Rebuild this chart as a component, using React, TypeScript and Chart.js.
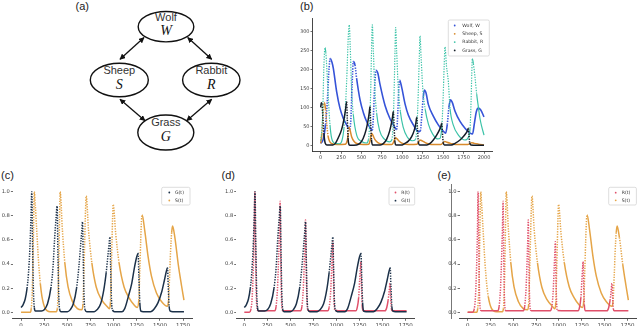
import React, { useEffect, useRef } from "react";
import { Chart, registerables } from "chart.js";
Chart.register(...registerables);

// ---------- panel (b): populations over time ----------
const wolfT = [0,30,60,85,100,118,140,155,196,236,277,318,355,370,385,400,420,441,482,523,564,605,632,645,660,678,700,727,788,849,900,930,945,955,966,990,1032,1073,1134,1196,1220,1240,1255,1270,1290,1318,1379,1440,1502,1530,1550,1570,1590,1610,1645,1706,1767,1829,1860,1880,1905,1930,1960,2000];
const wolfV = [5,15,55,130,195,229,218,203,141,98,71,54,42,70,160,221,212,175,120,86,62,46,40,75,150,198,190,160,105,70,50,42,90,145,172,155,110,80,54,36,38,85,125,146,138,108,77,54,37,32,55,100,120,114,90,63,45,32,30,55,88,98,93,75];

const sheepT = [0,15,30,45,60,75,90,110,140,200,300,325,338,347,360,380,410,450,520,590,605,615,624,640,665,700,750,870,890,905,916,935,965,1010,1080,1180,1200,1215,1240,1280,1330,1470,1500,1520,1545,1590,1650,1800,1830,1849,1880,1930,2000];
const sheepV = [5,30,85,113,95,55,25,10,4,2,3,12,30,48,40,22,10,4,2,3,12,24,32,26,15,7,3,2,7,15,20,17,10,4,2,3,9,14,12,7,3,2,7,10,8,5,2,2,5,7,5,3,1];

const rabbitT = [0,12,24,40,53,63,73,94,114,135,176,230,257,285,305,318,339,350,362,378,400,441,502,560,585,600,612,622,632,645,660,685,720,780,840,870,888,900,910,918,930,950,975,1010,1060,1120,1160,1180,1195,1207,1216,1230,1250,1280,1320,1370,1430,1460,1485,1500,1512,1522,1540,1563,1584,1624,1686,1767,1810,1829,1842,1850,1857,1870,1889,1910,1930,1951,1971,2000];
const rabbitV = [12,35,80,212,258,245,212,124,54,18,5,4,10,45,110,168,291,318,260,150,80,27,10,6,15,60,140,240,318,250,160,85,40,16,9,14,60,150,250,311,250,150,90,48,22,12,15,55,140,230,289,230,150,95,55,30,17,18,55,130,210,260,210,168,97,53,27,14,22,45,120,190,229,215,181,135,102,70,50,27];

const grassT = [0,8,16,28,40,55,75,150,180,216,257,286,305,318,326,335,345,360,440,480,520,555,580,594,604,612,622,635,730,770,810,845,868,880,890,898,908,920,1000,1032,1073,1114,1146,1165,1176,1185,1195,1210,1300,1339,1379,1420,1453,1472,1482,1490,1500,1515,1600,1645,1706,1747,1780,1800,1808,1815,1825,1840,2000];
const grassV = [100,112,108,70,30,6,1,1,5,20,42,70,95,115,70,20,3,0,1,5,18,40,65,85,102,60,15,1,1,5,17,38,60,75,89,55,12,1,1,5,11,23,40,58,74,45,10,1,1,5,14,27,40,50,58,35,8,1,1,5,14,23,32,40,45,28,6,1,0];

const bXTicks = [0,250,500,750,1000,1250,1500,1750,2000];
const bYTicks = [0,50,100,150,200,250,300];

// ---------- panels (c)-(e): normalised series ----------
const gT = [0,20,45,65,80,95,107,116,124,133,143,155,220,250,286,322,345,362,378,390,398,407,418,430,500,530,565,600,625,645,657,664,672,681,692,710,790,820,860,895,920,940,953,960,968,977,988,1010,1090,1120,1159,1196,1225,1250,1265,1273,1283,1295,1320,1400,1440,1480,1520,1550,1570,1582,1590,1600,1612,1640,1760];
const gV = [0.04,0.06,0.11,0.2,0.32,0.52,0.78,1.0,0.6,0.2,0.04,0.01,0.01,0.02,0.07,0.2,0.37,0.6,0.78,0.88,0.5,0.15,0.02,0.005,0.005,0.02,0.07,0.2,0.38,0.57,0.68,0.75,0.45,0.12,0.02,0.005,0.005,0.02,0.07,0.19,0.33,0.48,0.58,0.625,0.38,0.1,0.02,0.005,0.005,0.03,0.13,0.24,0.37,0.46,0.49,0.3,0.08,0.01,0.005,0.005,0.03,0.08,0.17,0.27,0.34,0.37,0.22,0.05,0.01,0.005,0.005];

const sT = [0,100,110,120,128,135,143,153,168,190,208,226,262,313,380,392,402,410,416,422,447,473,508,555,609,655,668,678,688,697,704,729,765,812,873,927,955,965,975,983,990,995,1023,1059,1113,1167,1222,1255,1272,1283,1293,1301,1308,1336,1373,1409,1463,1517,1580,1592,1605,1615,1627,1637,1662,1698,1734,1760];
const sV = [0,0,0.03,0.15,0.4,0.7,1.0,0.9,0.7,0.41,0.24,0.13,0.03,0.005,0.005,0.03,0.2,0.5,0.78,1.0,0.68,0.41,0.21,0.09,0.03,0.02,0.06,0.3,0.6,0.85,0.965,0.68,0.41,0.21,0.1,0.05,0.03,0.08,0.35,0.6,0.8,0.895,0.65,0.41,0.21,0.12,0.06,0.04,0.1,0.35,0.6,0.76,0.81,0.68,0.46,0.3,0.16,0.09,0.05,0.09,0.3,0.5,0.66,0.715,0.62,0.4,0.22,0.1];

const rT = [0,55,70,85,97,107,115,121,130,140,150,330,345,360,372,382,388,394,402,412,420,610,625,640,652,659,664,670,678,688,698,905,920,935,947,955,960,966,974,984,1210,1225,1240,1252,1260,1264,1270,1278,1288,1525,1545,1560,1572,1580,1587,1595,1605,1760];
const rV = [0,0,0.02,0.12,0.35,0.65,1.0,0.6,0.15,0.02,0.012,0.012,0.05,0.2,0.45,0.72,0.92,0.55,0.15,0.02,0.012,0.012,0.05,0.2,0.45,0.62,0.765,0.45,0.12,0.02,0.012,0.012,0.04,0.15,0.35,0.5,0.585,0.35,0.08,0.015,0.012,0.04,0.12,0.28,0.38,0.42,0.25,0.06,0.013,0.012,0.04,0.1,0.18,0.24,0.14,0.03,0.012,0.012];

const nXTicks = [0,250,500,750,1000,1250,1500,1750];
const nYTicks = [0,0.2,0.4,0.6,0.8,1.0];

// ---------- colours ----------
const C_WOLF = "#3553d8";
const C_SHEEP = "#d88a2c";
const C_RABBIT = "#3cc3a8";
const C_GRASS = "#141d28";
const C_G = "#1c3149";
const C_S = "#e5a548";
const C_R = "#e0506a";

const TICK_FONT = "DejaVu Sans";

function pts(t: number[], v: number[]) {
  return t.map((x, i) => ({ x, y: v[i] }));
}

// near-vertical stretches look dotted (sparse samples), the rest solid
const steepDash = (ctx: any) => {
  const dx = Math.abs(ctx.p1.x - ctx.p0.x);
  const dy = Math.abs(ctx.p1.y - ctx.p0.y);
  return dy > 8 * dx ? [1.3, 1.3] : undefined;
};

function ds(label: string, t: number[], v: number[], color: string, order: number, width = 1.5) {
  return {
    label,
    data: pts(t, v),
    borderColor: color,
    backgroundColor: color,
    borderWidth: width,
    pointRadius: 0,
    fill: false,
    cubicInterpolationMode: "monotone",
    order,
    segment: { borderDash: steepDash },
  };
}

const boxLegend = {
  id: "boxLegend",
  afterDatasetsDraw(chart: any, _args: any, opts: any) {
    if (!opts || !opts.w) return;
    const { ctx, chartArea } = chart;
    const x0 = chartArea.right - opts.right - opts.w;
    const y0 = chartArea.top + opts.top;
    ctx.save();
    ctx.fillStyle = "rgba(255,255,255,0.85)";
    ctx.strokeStyle = "#d4d4d4";
    ctx.lineWidth = 0.8;
    ctx.beginPath();
    if (ctx.roundRect) ctx.roundRect(x0, y0, opts.w, opts.h, 1.5);
    else ctx.rect(x0, y0, opts.w, opts.h);
    ctx.fill();
    ctx.stroke();
    chart.data.datasets.forEach((d: any, i: number) => {
      const y = y0 + opts.first + i * opts.row;
      ctx.fillStyle = d.borderColor;
      ctx.beginPath();
      ctx.arc(x0 + opts.mx, y, 0.9, 0, Math.PI * 2);
      ctx.fill();
      ctx.fillStyle = "#333";
      ctx.font = `${opts.fs}px "${TICK_FONT}"`;
      ctx.textBaseline = "middle";
      ctx.textAlign = "left";
      ctx.fillText(d.label, x0 + opts.tx, y);
    });
    ctx.restore();
  },
};

type Spec = {
  left: number; right: number; top: number; bottom: number;
  wy: number; hx: number;
  xmin: number; xmax: number; ymin: number; ymax: number;
  xticks: number[]; yticks: number[];
  yfmt: (v: number) => string;
  xfs: number; yfs: number;
  ySpine: boolean;
  datasets: any[];
  legend: any;
};

function Panel({ spec }: { spec: Spec }) {
  const ref = useRef<HTMLCanvasElement | null>(null);
  const X0 = Math.floor(spec.left - spec.wy - 2);
  const Y0 = Math.floor(spec.top - 3);
  const W = Math.ceil(spec.right + 3) - X0;
  const H = Math.ceil(spec.bottom + spec.hx + 1) - Y0;
  useEffect(() => {
    const pad = {
      left: spec.left - spec.wy - X0,
      top: spec.top - Y0,
      right: X0 + W - spec.right,
      bottom: Y0 + H - spec.bottom - spec.hx,
    };
    const chart = new Chart(ref.current as HTMLCanvasElement, {
      type: "line",
      data: { datasets: spec.datasets },
      plugins: [boxLegend],
      options: {
        animation: false,
        responsive: false,
        events: [],
        layout: { padding: pad },
        plugins: {
          legend: { display: false },
          tooltip: { enabled: false },
          boxLegend: spec.legend,
        } as any,
        scales: {
          x: {
            type: "linear",
            min: spec.xmin,
            max: spec.xmax,
            afterBuildTicks: (s: any) => {
              s.ticks = spec.xticks.map((v) => ({ value: v }));
            },
            afterFit: (s: any) => {
              s.height = spec.hx;
              s.paddingLeft = 0;
              s.paddingRight = 0;
            },
            ticks: {
              autoSkip: false,
              maxRotation: 0,
              padding: 1,
              color: "#444",
              font: { family: TICK_FONT, size: spec.xfs },
              callback: (v: any) => String(v),
            },
            grid: {
              drawOnChartArea: false,
              drawTicks: true,
              tickLength: 2.5,
              tickColor: "#333",
              tickWidth: 0.7,
            },
            border: { display: true, color: "#333", width: 0.9 },
          },
          y: {
            type: "linear",
            min: spec.ymin,
            max: spec.ymax,
            afterBuildTicks: (s: any) => {
              s.ticks = spec.yticks.map((v) => ({ value: v }));
            },
            afterFit: (s: any) => {
              s.width = spec.wy;
              s.paddingTop = 0;
              s.paddingBottom = 0;
            },
            ticks: {
              autoSkip: false,
              padding: 1,
              color: "#444",
              font: { family: TICK_FONT, size: spec.yfs },
              callback: (v: any) => spec.yfmt(Number(v)),
            },
            grid: {
              drawOnChartArea: false,
              drawTicks: true,
              tickLength: 2,
              tickColor: "#333",
              tickWidth: 0.7,
            },
            border: { display: spec.ySpine, color: "#333", width: 0.9 },
          },
        },
      } as any,
    });
    return () => chart.destroy();
  }, []);
  return (
    <canvas
      ref={ref}
      width={W}
      height={H}
      style={{ position: "absolute", left: X0, top: Y0, width: W, height: H }}
    />
  );
}

const specB: Spec = {
  left: 312.5, right: 492.2, top: 18.8, bottom: 151.3,
  wy: 12, hx: 10,
  xmin: -100, xmax: 2100, ymin: -15.9, ymax: 334,
  xticks: bXTicks, yticks: bYTicks,
  yfmt: (v) => String(v),
  xfs: 5, yfs: 5, ySpine: true,
  datasets: [
    ds("Wolf, W", wolfT, wolfV, C_WOLF, 3, 1.6),
    ds("Sheep, S", sheepT, sheepV, C_SHEEP, 2, 1.5),
    ds("Rabbit, R", rabbitT, rabbitV, C_RABBIT, 1, 1.2),
    ds("Grass, G", grassT, grassV, C_GRASS, 0, 1.5),
  ],
  legend: { w: 41, h: 36, right: 2.9, top: 1.2, first: 5.5, row: 8.3, mx: 6.4, tx: 14, fs: 4.6 },
};

const baseN = {
  top: 185.7, bottom: 318.3, wy: 13, hx: 9,
  xmin: -88, xmax: 1848, ymin: -0.05, ymax: 1.05,
  xticks: nXTicks, yticks: nYTicks,
  yfmt: (v: number) => v.toFixed(1),
  xfs: 5.5, yfs: 5.2, ySpine: false,
};

const specC: Spec = {
  ...baseN, left: 12.9, right: 192.1,
  datasets: [ds("G(t)", gT, gV, C_G, 0), ds("S(t)", sT, sV, C_S, 1)],
  legend: { w: 28.3, h: 17.7, right: 2.1, top: 1.6, first: 5.2, row: 8, mx: 7.6, tx: 13.3, fs: 4.6 },
};
const specD: Spec = {
  ...baseN, left: 236.2, right: 414.7,
  datasets: [ds("R(t)", rT, rV, C_R, 1), ds("G(t)", gT, gV, C_G, 0)],
  legend: { w: 25.7, h: 17.7, right: 0, top: 1.6, first: 5.2, row: 8.2, mx: 6.5, tx: 12.3, fs: 4.6 },
};
const specE: Spec = {
  ...baseN, left: 459.6, right: 636.4,
  datasets: [ds("R(t)", rT, rV, C_R, 0), ds("S(t)", sT, sV, C_S, 1)],
  legend: { w: 27.7, h: 17.7, right: 0, top: 1.6, first: 5.4, row: 7.6, mx: 7, tx: 13, fs: 4.6 },
};

const nodes = [
  { name: "Wolf", sym: "W", cx: 166, cy: 26.7, rx: 27.8, ry: 15.2 },
  { name: "Sheep", sym: "S", cx: 119.3, cy: 80, rx: 29, ry: 16.7 },
  { name: "Rabbit", sym: "R", cx: 211.3, cy: 80, rx: 28.7, ry: 16.7 },
  { name: "Grass", sym: "G", cx: 165.8, cy: 132.5, rx: 28, ry: 17.5 },
];
const arrows = [
  [144, 37.6, 120, 59.3],
  [187.7, 37.6, 211.7, 59.3],
  [120, 99.3, 145, 120.7],
  [211.7, 99.3, 186.7, 120.7],
];

function Diagram() {
  return (
    <svg width={320} height={170} style={{ position: "absolute", left: 0, top: 0 }}>
      <defs>
        <marker id="ah" viewBox="0 0 10 10" refX="9" refY="5" markerWidth="4.5" markerHeight="4.5" orient="auto-start-reverse">
          <path d="M0,0 L10,5 L0,10 z" fill="#111" />
        </marker>
      </defs>
      {arrows.map((a, i) => (
        <line key={i} x1={a[0]} y1={a[1]} x2={a[2]} y2={a[3]} stroke="#111" strokeWidth={1.3}
          markerStart="url(#ah)" markerEnd="url(#ah)" />
      ))}
      {nodes.map((n) => (
        <g key={n.name}>
          <ellipse cx={n.cx} cy={n.cy} rx={n.rx} ry={n.ry} fill="#fff" stroke="#111" strokeWidth={1.4} />
          <text x={n.cx} y={n.cy - 6.2} textAnchor="middle" fontFamily="Liberation Sans" fontSize={11} fill="#333">{n.name}</text>
          <text x={n.cx} y={n.cy + 8.6} textAnchor="middle" fontFamily="Liberation Serif" fontStyle="italic" fontSize={14} fill="#111">{n.sym}</text>
        </g>
      ))}
    </svg>
  );
}

const labelStyle = (left: number, top: number): React.CSSProperties => ({
  position: "absolute",
  left,
  top,
  font: '11px "Liberation Sans"',
  lineHeight: "11px",
  color: "#222",
  whiteSpace: "nowrap",
});

export default function App() {
  return (
    <div style={{ position: "absolute", left: 0, top: 0, width: 640, height: 326, background: "#fff", overflow: "hidden" }}>
      <Diagram />
      <div style={labelStyle(75.5, 1.4)}>(a)</div>
      <div style={labelStyle(300, 0.6)}>(b)</div>
      <div style={labelStyle(1, 170.4)}>(c)</div>
      <div style={labelStyle(221.5, 170.4)}>(d)</div>
      <div style={labelStyle(437.5, 170.4)}>(e)</div>
      <div style={{ position: "absolute", left: 451.3, top: 184, width: 0.8, height: 135, background: "#777" }} />
      <Panel spec={specB} />
      <Panel spec={specC} />
      <Panel spec={specD} />
      <Panel spec={specE} />
    </div>
  );
}
